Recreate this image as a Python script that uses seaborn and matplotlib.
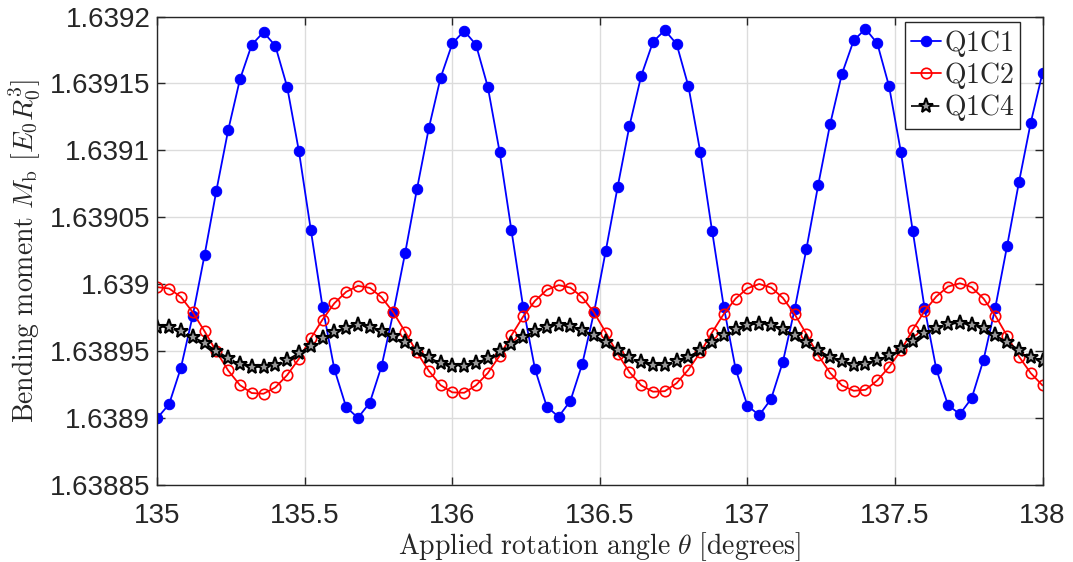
import numpy as np
import pandas as pd
import matplotlib
matplotlib.use("Agg")
import matplotlib.pyplot as plt
import seaborn as sns

# ---------------- data ----------------
theta = np.round(np.arange(135.0, 138.0001, 0.04), 2)

q1c1 = [1.6389000, 1.6389104, 1.6389376, 1.6389764, 1.6390216, 1.6390697, 1.6391149, 1.6391530,
        1.6391789, 1.6391883, 1.6391781, 1.6391475, 1.6390993, 1.6390408, 1.6389831, 1.6389366,
        1.6389082, 1.6389002, 1.6389114, 1.6389388, 1.6389789, 1.6390234, 1.6390711, 1.6391164,
        1.6391542, 1.6391799, 1.6391893, 1.6391789, 1.6391475, 1.6390990, 1.6390405, 1.6389828,
        1.6389366, 1.6389085, 1.6389010, 1.6389129, 1.6389403, 1.6389789, 1.6390251, 1.6390726,
        1.6391182, 1.6391557, 1.6391811, 1.6391898, 1.6391794, 1.6391478, 1.6390990, 1.6390400,
        1.6389828, 1.6389366, 1.6389092, 1.6389022, 1.6389142, 1.6389420, 1.6389813, 1.6390266,
        1.6390744, 1.6391194, 1.6391570, 1.6391821, 1.6391908, 1.6391799, 1.6391478, 1.6390988,
        1.6390400, 1.6389826, 1.6389366, 1.6389095, 1.6389030, 1.6389149, 1.6389435, 1.6389826,
        1.6390286, 1.6390761, 1.6391206, 1.6391580]

q1c2 = [1.6389978, 1.6389968, 1.6389905, 1.6389791, 1.6389649, 1.6389498, 1.6389356, 1.6389246,
        1.6389187, 1.6389182, 1.6389229, 1.6389321, 1.6389443, 1.6389595, 1.6389736, 1.6389858,
        1.6389943, 1.6389988, 1.6389973, 1.6389903, 1.6389789, 1.6389644, 1.6389490, 1.6389353,
        1.6389246, 1.6389192, 1.6389189, 1.6389244, 1.6389336, 1.6389465, 1.6389617, 1.6389759,
        1.6389876, 1.6389958, 1.6389993, 1.6389975, 1.6389903, 1.6389789, 1.6389639, 1.6389480,
        1.6389343, 1.6389244, 1.6389197, 1.6389201, 1.6389261, 1.6389362, 1.6389490, 1.6389639,
        1.6389779, 1.6389893, 1.6389970, 1.6390002, 1.6389975, 1.6389898, 1.6389776, 1.6389627,
        1.6389468, 1.6389338, 1.6389244, 1.6389204, 1.6389211, 1.6389281, 1.6389381, 1.6389505,
        1.6389659, 1.6389799, 1.6389908, 1.6389983, 1.6390007, 1.6389978, 1.6389893, 1.6389766,
        1.6389614, 1.6389460, 1.6389336, 1.6389244]

q1c4 = [1.6389684, 1.6389679, 1.6389654, 1.6389609, 1.6389560, 1.6389502, 1.6389450, 1.6389405,
        1.6389383, 1.6389381, 1.6389398, 1.6389435, 1.6389485, 1.6389540, 1.6389595, 1.6389642,
        1.6389672, 1.6389692, 1.6389684, 1.6389654, 1.6389614, 1.6389565, 1.6389507, 1.6389453,
        1.6389410, 1.6389391, 1.6389391, 1.6389410, 1.6389448, 1.6389498, 1.6389555, 1.6389609,
        1.6389647, 1.6389684, 1.6389697, 1.6389689, 1.6389659, 1.6389619, 1.6389565, 1.6389505,
        1.6389453, 1.6389418, 1.6389396, 1.6389396, 1.6389423, 1.6389460, 1.6389505, 1.6389565,
        1.6389619, 1.6389667, 1.6389697, 1.6389704, 1.6389694, 1.6389664, 1.6389619, 1.6389567,
        1.6389505, 1.6389458, 1.6389425, 1.6389400, 1.6389405, 1.6389435, 1.6389468, 1.6389520,
        1.6389577, 1.6389634, 1.6389672, 1.6389704, 1.6389709, 1.6389699, 1.6389672, 1.6389619,
        1.6389567, 1.6389510, 1.6389460, 1.6389425]

series_names = ["Q1C1", "Q1C2", "Q1C4"]
x_ticks = [135, 135.5, 136, 136.5, 137, 137.5, 138]
x_ticklabels = ["135", "135.5", "136", "136.5", "137", "137.5", "138"]
y_ticks = [1.63885, 1.6389, 1.63895, 1.639, 1.63905, 1.6391, 1.63915, 1.6392]
y_ticklabels = ["1.63885", "1.6389", "1.63895", "1.639", "1.63905", "1.6391", "1.63915", "1.6392"]

# ---------------- style ----------------
sns.set_style("white")
plt.rcParams["font.family"] = ["Liberation Sans", "DejaVu Sans"]
plt.rcParams["mathtext.fontset"] = "cm"

fig = plt.figure(figsize=(10.73, 5.62), dpi=100)
ax = fig.add_axes([0.1466, 0.137, 0.825, 0.8336])

df = pd.DataFrame({"theta": theta, "Q1C1": q1c1, "Q1C2": q1c2, "Q1C4": q1c4})

sns.lineplot(data=df, x="theta", y="Q1C1", ax=ax, color="#0000ff", marker="o",
             markersize=7.5, markeredgecolor="#0000ff", markerfacecolor="#0000ff",
             linewidth=1.3, label=r"$\mathrm{Q1C1}$", sort=False, estimator=None)
sns.lineplot(data=df, x="theta", y="Q1C2", ax=ax, color="#ff0000", marker="o",
             markersize=7.5, markeredgecolor="#ff0000", markerfacecolor="none",
             markeredgewidth=1.2, linewidth=1.3, label=r"$\mathrm{Q1C2}$", sort=False, estimator=None)
sns.lineplot(data=df, x="theta", y="Q1C4", ax=ax, color="black", marker="*",
             markersize=11, markeredgecolor="black", markerfacecolor="#9a9a9a",
             markeredgewidth=1.5, linewidth=1.2, linestyle="-.", label=r"$\mathrm{Q1C4}$",
             sort=False, estimator=None)

ax.set_xlim(135, 138)
ax.set_ylim(1.63885, 1.6392)
ax.set_xticks(x_ticks)
ax.set_xticklabels(x_ticklabels)
ax.set_yticks(y_ticks)
ax.set_yticklabels(y_ticklabels)

ax.grid(True, color="#dcdcdc", linewidth=1.0)
ax.set_axisbelow(True)
for sp in ax.spines.values():
    sp.set_color("#262626")
    sp.set_linewidth(1.0)
    sp.set_visible(True)

ax.tick_params(axis="both", direction="in", length=6, width=1.0, color="#262626",
               labelsize=20, labelcolor="#262626", top=True, right=True,
               bottom=True, left=True, pad=5)
ax.tick_params(axis="x", pad=13)

ax.set_xlabel(r"$\mathrm{Applied\ rotation\ angle}\ \theta\ \mathrm{[degrees]}$",
              fontsize=20, color="#262626", labelpad=1)
ax.set_ylabel(r"$\mathrm{Bending\ moment}\ M_{\mathrm{b}}\ [E_0R_0^3]$",
              fontsize=20, color="#262626", labelpad=6)

leg = ax.legend(loc="upper right", bbox_to_anchor=(0.9746, 0.988), fontsize=20,
                frameon=True, fancybox=False, framealpha=1, edgecolor="#262626",
                handlelength=1.1, handletextpad=0.1, borderpad=0.2, labelspacing=0.05,
                borderaxespad=0)
leg.get_frame().set_linewidth(1.0)

fig.savefig("out.png", dpi=100)
